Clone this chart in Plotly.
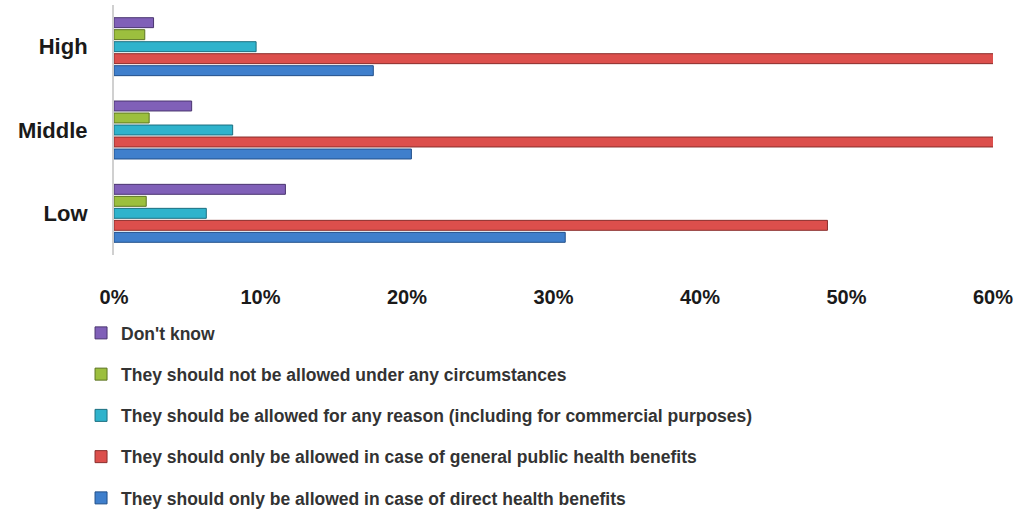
import plotly.graph_objects as go

# Income groups (bottom to top on the chart)
categories = ["Low", "Middle", "High"]

# Share of respondents per answer, in percent, ordered Low / Middle / High
direct_benefits = [30.8, 20.3, 17.7]
public_benefits = [48.7, 63.9, 67.8]
any_reason = [6.3, 8.1, 9.7]
not_allowed = [2.2, 2.4, 2.1]
dont_know = [11.7, 5.3, 2.7]

series = [
    ("They should only be allowed in case of direct health benefits", direct_benefits, "#3f7fcc", "#22508a"),
    ("They should only be allowed in case of general public health benefits", public_benefits, "#dc4f4c", "#8a2e2c"),
    ("They should be allowed for any reason (including for commercial purposes)", any_reason, "#2fb3cc", "#1c6f80"),
    ("They should not be allowed under any circumstances", not_allowed, "#9cbf3e", "#5c7422"),
    ("Don't know", dont_know, "#8060b8", "#4a3570"),
]

fig = go.Figure()
n = len(series)
for i, (name, vals, fill, edge) in enumerate(series):
    fig.add_trace(go.Bar(
        y=categories,
        x=[v / 100 for v in vals],
        name=name,
        orientation="h",
        legendgroup=f"g{i}",
        legendrank=n - i,
        marker=dict(color=fill, line=dict(color=edge, width=1)),
    ))

fig.update_layout(
    width=1024,
    height=512,
    margin=dict(l=114, r=31, t=5, b=257, autoexpand=False),
    paper_bgcolor="white",
    plot_bgcolor="white",
    barmode="group",
    bargap=0.28,
    bargroupgap=0.17,
    showlegend=True,
    legend=dict(
        orientation="v",
        traceorder="grouped",
        tracegroupgap=15.5,
        x=-0.0375,
        xanchor="left",
        y=-0.24,
        yanchor="top",
        font=dict(family="Liberation Sans, Arial, sans-serif", size=17.5, color="#333333", weight="bold"),
        itemwidth=30,
        bgcolor="rgba(0,0,0,0)",
    ),
    xaxis=dict(
        range=[0, 0.6],
        tickformat=".0%",
        dtick=0.1,
        showgrid=False,
        zeroline=False,
        showline=False,
        ticks="",
        automargin=False,
        ticklabelstandoff=28,
        tickfont=dict(family="Liberation Sans Narrow, Liberation Sans, Arial, sans-serif", size=20, color="#1a1a1a", weight="bold"),
    ),
    yaxis=dict(
        categoryorder="array",
        categoryarray=categories,
        showgrid=False,
        zeroline=False,
        showline=True,
        linecolor="#d0d0d0",
        linewidth=2,
        ticks="",
        automargin=False,
        ticklabelstandoff=20,
        tickfont=dict(family="Liberation Sans, Arial, sans-serif", size=22, color="#1a1a1a", weight="bold"),
    ),
)

fig.write_html("out.html")
